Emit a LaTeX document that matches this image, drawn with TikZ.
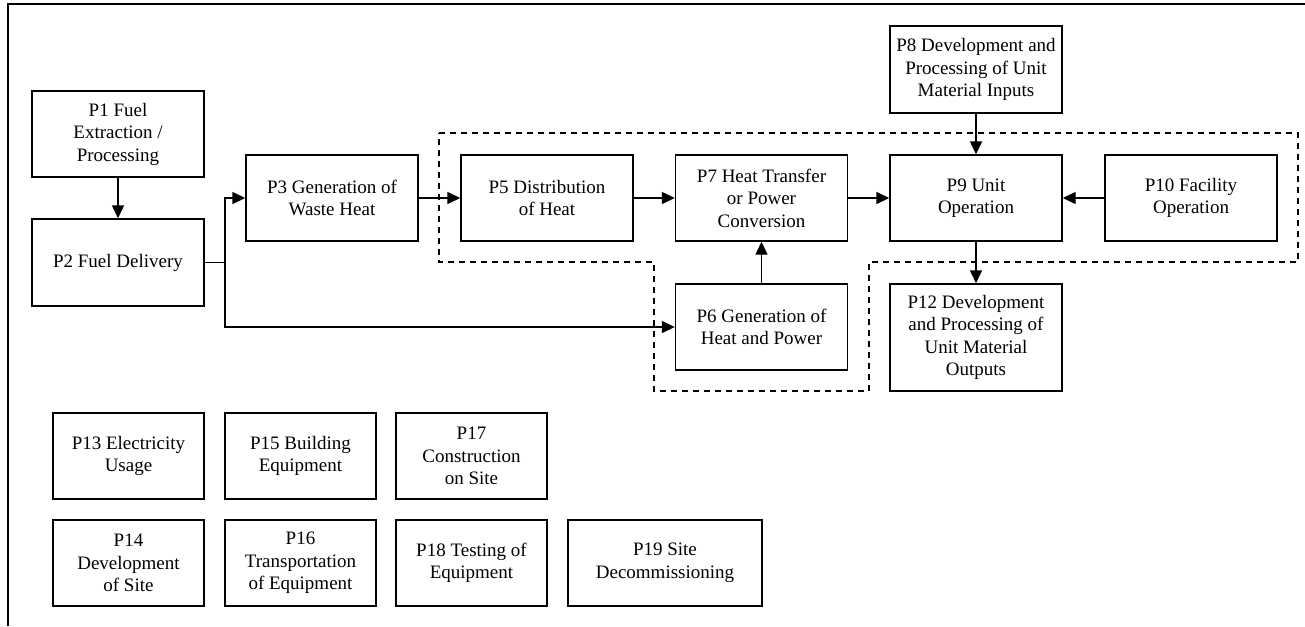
\documentclass[tikz,border=0pt]{standalone}
\usepackage{fontspec}
\setmainfont{Liberation Serif}
\usetikzlibrary{arrows.meta}

\begin{document}
\begin{tikzpicture}
[x=1pt,y=-1pt,>={Triangle[length=13pt,width=12pt]},
 proc/.style={draw,line width=1.4pt,align=center,minimum width=172pt,minimum height=86pt,inner sep=2pt,font=\fontsize{19}{22.5}\selectfont},
 small/.style={proc,minimum width=151pt},
 group/.style={line width=1.4pt,dash pattern=on 6pt off 5pt},
 link/.style={line width=1.4pt,->}]

\useasboundingbox (0,0) rectangle (1305,626);

% the frame
\draw[line width=1.4pt] (8,626) -- (8,4) -- (1305,4);

% the dashed group
\draw[group] (439,133) -- (1298,133) -- (1298,262) -- (869,262) -- (869,391)
  -- (654,391) -- (654,262) -- (439,262) -- cycle;

% the processes
\node[proc] (p1) at (118,134) {P1 Fuel\\Extraction /\\Processing};
\node[proc,minimum height=87pt] (p2) at (118,262.5) {P2 Fuel Delivery};
\node[proc] (p3) at (332,198) {P3 Generation of\\Waste Heat};
\node[proc] (p5) at (547,198) {P5 Distribution\\of Heat};
\node[proc] (p7) at (761.5,198) {P7 Heat Transfer\\or Power\\Conversion};
\node[proc] (p6) at (761.5,327) {P6 Generation of\\Heat and Power};
\node[proc,minimum height=87pt] (p8) at (976,69.5) {P8 Development and\\Processing of Unit\\Material Inputs};
\node[proc] (p9) at (976,198) {P9 Unit\\Operation};
\node[proc] (p10) at (1191,198) {P10 Facility\\Operation};
\node[proc,minimum height=107pt] (p12) at (976,337.5) {P12 Development\\and Processing of\\Unit Material\\Outputs};

% the other processes
\node[small] (p13) at (128.5,456) {P13 Electricity\\Usage};
\node[small] (p15) at (300.5,456) {P15 Building\\Equipment};
\node[small] (p17) at (471.5,456) {P17\\Construction\\on Site};
\node[small] (p14) at (128.5,563) {P14\\Development\\of Site};
\node[small] (p16) at (300.5,563) {P16\\Transportation\\of Equipment};
\node[small] (p18) at (471.5,563) {P18 Testing of\\Equipment};
\node[small,minimum width=194pt] (p19) at (665,563) {P19 Site\\Decommissioning};

% the flows
\coordinate (j) at (225,262.5);
\draw[link] (p1) -- (p2);
\draw[line width=1.4pt] (p2.east) -- (j);
\draw[link] (j) |- (p3.west);
\draw[link] (j) |- (p6.west);
\draw[link] (p3) -- (p5);
\draw[link] (p5) -- (p7);
\draw[link] (p6) -- (p7);
\draw[link] (p7) -- (p9);
\draw[link] (p8) -- (p9);
\draw[link] (p10) -- (p9);
\draw[link] (p9) -- (p12);

\end{tikzpicture}
\end{document}
